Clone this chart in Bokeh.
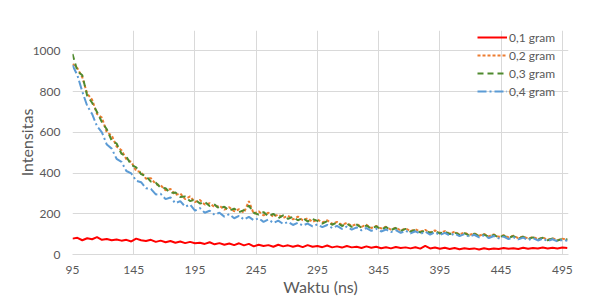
from bokeh.plotting import figure
from bokeh.models import Range1d, FixedTicker, Legend, LegendItem
from bokeh.embed import file_html
from bokeh.resources import INLINE

# ---- data ----
t_start = 95
t_step = 4
x_ticks = [95, 145, 195, 245, 295, 345, 395, 445, 495]
y_ticks = [0, 200, 400, 600, 800, 1000]
labels = ["0,1 gram", "0,2 gram", "0,3 gram", "0,4 gram"]

g01 = [78, 82, 70, 80, 75, 85, 72, 76, 70, 74,
       68, 72, 64, 78, 70, 66, 72, 62, 68, 60,
       66, 58, 64, 56, 62, 55, 58, 52, 60, 50,
       56, 48, 54, 46, 55, 45, 52, 40, 48, 42,
       46, 38, 48, 40, 45, 38, 44, 36, 46, 38,
       42, 36, 44, 35, 40, 34, 42, 35, 38, 32,
       40, 33, 38, 31, 36, 30, 37, 32, 35, 30,
       36, 29, 42, 30, 34, 28, 33, 27, 32, 26,
       31, 27, 30, 25, 31, 26, 30, 27, 32, 28,
       31, 27, 33, 28, 32, 29, 34, 30, 33, 30,
       34, 32]
g02 = [935, 915, 870, 790, 760, 690, 672, 600, 585, 530,
       512, 468, 455, 410, 405, 372, 375, 345, 340, 315,
       322, 292, 300, 272, 285, 258, 268, 245, 252, 232,
       240, 220, 232, 212, 222, 205, 262, 200, 212, 192,
       205, 185, 196, 180, 190, 172, 186, 168, 178, 160,
       172, 158, 168, 150, 160, 145, 155, 140, 150, 136,
       146, 130, 140, 128, 136, 122, 132, 118, 128, 115,
       124, 112, 121, 108, 118, 106, 115, 102, 112, 98,
       108, 96, 104, 92, 101, 89, 99, 86, 95, 84,
       92, 80, 89, 78, 86, 75, 84, 72, 80, 70,
       78, 72]
g03 = [985, 900, 880, 780, 745, 700, 650, 615, 560, 545,
       495, 480, 440, 428, 395, 385, 358, 352, 328, 325,
       302, 305, 282, 285, 262, 270, 250, 258, 238, 245,
       225, 235, 215, 225, 208, 218, 240, 205, 196, 208,
       188, 200, 178, 192, 175, 185, 168, 180, 162, 174,
       165, 152, 164, 146, 158, 140, 152, 136, 147, 132,
       142, 128, 138, 124, 134, 120, 130, 116, 126, 112,
       122, 108, 118, 106, 115, 103, 112, 100, 109, 96,
       105, 93, 102, 90, 98, 87, 96, 84, 93, 82,
       90, 79, 87, 76, 84, 73, 82, 70, 79, 68,
       77, 74]
g04 = [930, 880, 800, 730, 690, 630, 600, 540, 520, 470,
       455, 410, 398, 362, 355, 325, 322, 295, 298, 272,
       280, 252, 262, 235, 245, 215, 228, 205, 215, 195,
       205, 186, 198, 178, 190, 172, 185, 168, 178, 160,
       172, 155, 166, 150, 160, 145, 156, 142, 152, 138,
       148, 134, 145, 130, 141, 126, 137, 122, 133, 119,
       130, 116, 126, 113, 123, 110, 120, 106, 117, 104,
       114, 101, 112, 98, 109, 96, 106, 93, 103, 90,
       100, 87, 97, 84, 94, 81, 91, 79, 88, 76,
       85, 74, 83, 71, 80, 69, 78, 66, 75, 64,
       72, 68]
series = [g01, g02, g03, g04]

# ---- styles ----
colors = ["#FF0000", "#ED7D31", "#4F8A2E", "#5B9BD5"]
dashes = ["solid", "3 2", "6 4", "9 3 2 3"]
widths = [2, 2, 2, 2]
FONT = "Lato"
GREY = "#595959"
GRID = "#D9D9D9"

p = figure(width=600, height=299, output_backend="svg", toolbar_location=None,
           x_range=Range1d(95, 500), y_range=Range1d(0, 1100),
           min_border_left=72, min_border_right=32, min_border_top=30, min_border_bottom=45)
p.outline_line_color = None
p.background_fill_color = "white"
p.border_fill_color = "white"

items = []
for vals, lab, c, d, w in zip(series, labels, colors, dashes, widths):
    xs = [t_start + t_step * i for i in range(len(vals))]
    r = p.line(xs, vals, line_color=c, line_dash=d, line_width=w)
    items.append(LegendItem(label=lab, renderers=[r]))

p.xaxis.ticker = FixedTicker(ticks=x_ticks)
p.yaxis.ticker = FixedTicker(ticks=y_ticks)
p.xgrid.grid_line_color = GRID
p.ygrid.grid_line_color = GRID

for ax in (p.xaxis[0], p.yaxis[0]):
    ax.major_tick_line_color = None
    ax.minor_tick_line_color = None
    ax.major_tick_out = 0
    ax.major_tick_in = 0
    ax.major_label_text_font = FONT
    ax.major_label_text_font_size = "12px"
    ax.major_label_text_color = GREY
    ax.axis_label_text_font = FONT
    ax.axis_label_text_font_size = "16px"
    ax.axis_label_text_color = GREY
    ax.axis_label_text_font_style = "normal"

p.yaxis.axis_line_color = None
p.xaxis.axis_line_color = GRID
p.yaxis.axis_label = "Intensitas"
p.xaxis.axis_label = "Waktu (ns)"
p.yaxis.major_label_standoff = 12
p.yaxis.axis_label_standoff = -6
p.xaxis.major_label_standoff = 11
p.xaxis.axis_label_standoff = 0

legend = Legend(items=items, location=(405, 154))
legend.background_fill_alpha = 0
legend.border_line_color = None
legend.margin = 0
legend.padding = 0
legend.spacing = 0
legend.label_height = 18
legend.glyph_height = 18
legend.glyph_width = 30
legend.label_standoff = 2
legend.label_text_font = FONT
legend.label_text_font_size = "12px"
legend.label_text_color = GREY
p.add_layout(legend, "center")

open("out.html", "w").write(file_html(p, INLINE))
